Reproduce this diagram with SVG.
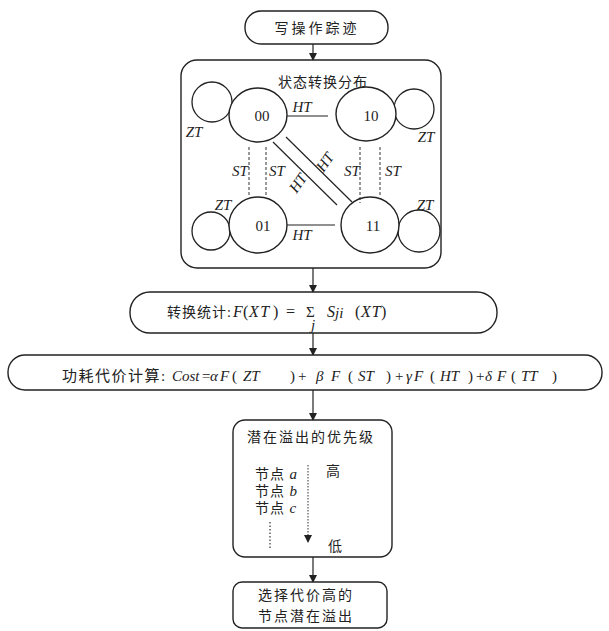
<svg xmlns="http://www.w3.org/2000/svg" width="609" height="631" viewBox="0 0 609 631">
<defs>
<marker id="ah" markerWidth="8" markerHeight="8" refX="7" refY="4" orient="auto" markerUnits="userSpaceOnUse">
<path d="M0,0 L8,4 L0,8 Z" fill="#222"/>
</marker>
<style>
.b{fill:#fff;stroke:#222;stroke-width:1.4}
.c{fill:none;stroke:#222;stroke-width:1.3}
.l{fill:none;stroke:#222;stroke-width:1.2}
.d{fill:none;stroke:#333;stroke-width:1;stroke-dasharray:3,2}
.zh{font-family:"Liberation Serif","Noto Sans CJK SC",serif;font-size:14px;fill:#222}
.it{font-family:"Liberation Serif",serif;font-style:italic;font-size:15px;fill:#222}
.n{font-family:"Liberation Serif",serif;font-size:15px;fill:#222}
.f{font-size:16px}
</style>
</defs>
<rect width="609" height="631" fill="#fff"/>
<g id="connectors">
<line class="l" x1="313" y1="44" x2="313" y2="60" marker-end="url(#ah)"/>
<line class="l" x1="313" y1="268" x2="313" y2="292" marker-end="url(#ah)"/>
<line class="l" x1="313" y1="333" x2="313" y2="355" marker-end="url(#ah)"/>
<line class="l" x1="313" y1="390" x2="313" y2="420" marker-end="url(#ah)"/>
<line class="l" x1="313" y1="557" x2="313" y2="582" marker-end="url(#ah)"/>
</g>
<g id="trace">
<rect class="b" x="245" y="11" width="143" height="33" rx="16"/>
<text class="zh" x="317" y="33" text-anchor="middle" font-size="15" letter-spacing="3">写操作踪迹</text>
</g>
<g id="dist">
<rect class="b" x="181" y="60" width="260" height="208" rx="16"/>
<text class="zh" x="323" y="87" text-anchor="middle" letter-spacing="1">状态转换分布</text>
<circle class="c" cx="212" cy="102" r="20"/>
<circle class="c" cx="414" cy="109" r="20"/>
<circle class="c" cx="211" cy="231" r="19"/>
<circle class="c" cx="419" cy="231" r="21"/>
<ellipse class="b" cx="258" cy="115" rx="29" ry="27"/>
<ellipse class="b" cx="366" cy="114" rx="30" ry="27"/>
<ellipse class="b" cx="258" cy="225" rx="29" ry="28"/>
<ellipse class="b" cx="370" cy="225" rx="29" ry="28"/>
<text class="n" x="262" y="121" text-anchor="middle">00</text>
<text class="n" x="371" y="121" text-anchor="middle">10</text>
<text class="n" x="263" y="231" text-anchor="middle">01</text>
<text class="n" x="373" y="231" text-anchor="middle">11</text>
<line class="l" x1="287" y1="116" x2="328" y2="116"/>
<line class="l" x1="287" y1="225" x2="335" y2="225"/>
<line class="l" x1="273" y1="142" x2="337" y2="205"/>
<line class="l" x1="286" y1="137" x2="352" y2="202"/>
<line class="d" x1="249" y1="147" x2="249" y2="197"/>
<line class="d" x1="266" y1="147" x2="266" y2="196"/>
<line class="d" x1="360" y1="147" x2="360" y2="203"/>
<line class="d" x1="380" y1="147" x2="380" y2="197"/>
<text class="it" x="302" y="112" text-anchor="middle">HT</text>
<text class="it" x="302" y="240" text-anchor="middle">HT</text>
<text class="it" x="194" y="137" text-anchor="middle">ZT</text>
<text class="it" x="426" y="142" text-anchor="middle">ZT</text>
<text class="it" x="223" y="210" text-anchor="middle">ZT</text>
<text class="it" x="425" y="210" text-anchor="middle">ZT</text>
<text class="it" x="240" y="176" text-anchor="middle">ST</text>
<text class="it" x="277" y="176" text-anchor="middle">ST</text>
<text class="it" x="352" y="176" text-anchor="middle">ST</text>
<text class="it" x="393" y="176" text-anchor="middle">ST</text>
<text class="it" x="0" y="0" text-anchor="middle" transform="translate(302,186) rotate(-55)">HT</text>
<text class="it" x="0" y="0" text-anchor="middle" transform="translate(329,165) rotate(-55)">HT</text>
</g>
<g id="stat">
<rect class="b" x="130" y="292" width="367" height="41" rx="20"/>
<text class="zh" y="317"><tspan x="167" letter-spacing="1">转换统计:</tspan><tspan class="it f" x="233">F</tspan><tspan class="n f" x="243">(</tspan><tspan class="it f" x="249" letter-spacing="1.5">XT</tspan><tspan class="n f" x="273">)</tspan><tspan class="n f" x="286">=</tspan><tspan class="n" x="306">Σ</tspan><tspan class="it f" x="327">S</tspan><tspan class="it" font-size="13" dy="1">ji</tspan><tspan class="n f" x="355" dy="-1">(</tspan><tspan class="it f" x="361" letter-spacing="1">XT</tspan><tspan class="n f" x="381">)</tspan></text>
<text class="it" x="311" y="330" font-size="9">j</text>
</g>
<g id="cost">
<rect class="b" x="8" y="355" width="594" height="35" rx="17"/>
<text class="zh" y="381"><tspan x="62" font-size="15" letter-spacing="1.5">功耗代价计算:</tspan><tspan class="it" x="172">Cost</tspan><tspan class="n" x="202">=</tspan><tspan class="it" x="210">α</tspan><tspan class="it" x="220">F</tspan><tspan class="n" x="232">(</tspan><tspan class="it" x="243">ZT</tspan><tspan class="n" x="290">)</tspan><tspan class="n" x="298">+</tspan><tspan class="it" x="316">β</tspan><tspan class="it" x="331">F</tspan><tspan class="n" x="348">(</tspan><tspan class="it" x="358">ST</tspan><tspan class="n" x="386">)</tspan><tspan class="n" x="395">+</tspan><tspan class="it" x="406">γ</tspan><tspan class="it" x="414">F</tspan><tspan class="n" x="430">(</tspan><tspan class="it" x="440">HT</tspan><tspan class="n" x="468">)</tspan><tspan class="n" x="476">+</tspan><tspan class="it" x="485">δ</tspan><tspan class="it" x="497">F</tspan><tspan class="n" x="511">(</tspan><tspan class="it" x="521">TT</tspan><tspan class="n" x="552">)</tspan></text>
</g>
<g id="priority">
<rect class="b" x="233" y="420" width="159" height="137" rx="12"/>
<text class="zh" x="311" y="442" text-anchor="middle" font-size="15" letter-spacing="2">潜在溢出的优先级</text>
<text class="zh" x="255" y="479" font-size="15" letter-spacing="1">节点 <tspan class="it">a</tspan></text>
<text class="zh" x="255" y="496" font-size="15" letter-spacing="1">节点 <tspan class="it">b</tspan></text>
<text class="zh" x="255" y="513" font-size="15" letter-spacing="1">节点 <tspan class="it">c</tspan></text>
<line x1="308" y1="465" x2="308" y2="542" stroke="#333" stroke-width="1" stroke-dasharray="1.5,1.5" marker-end="url(#ah)"/>
<line x1="270" y1="522" x2="270" y2="548" stroke="#333" stroke-width="1.2" stroke-dasharray="1.5,2"/>
<text class="zh" x="333" y="476" text-anchor="middle" font-size="15">高</text>
<text class="zh" x="335" y="551" text-anchor="middle" font-size="15">低</text>
</g>
<g id="select">
<rect class="b" x="233" y="582" width="154" height="46" rx="9"/>
<text class="zh" x="306" y="600" text-anchor="middle" font-size="15" letter-spacing="2">选择代价高的</text>
<text class="zh" x="306" y="621" text-anchor="middle" font-size="15" letter-spacing="2">节点潜在溢出</text>
</g>
</svg>
